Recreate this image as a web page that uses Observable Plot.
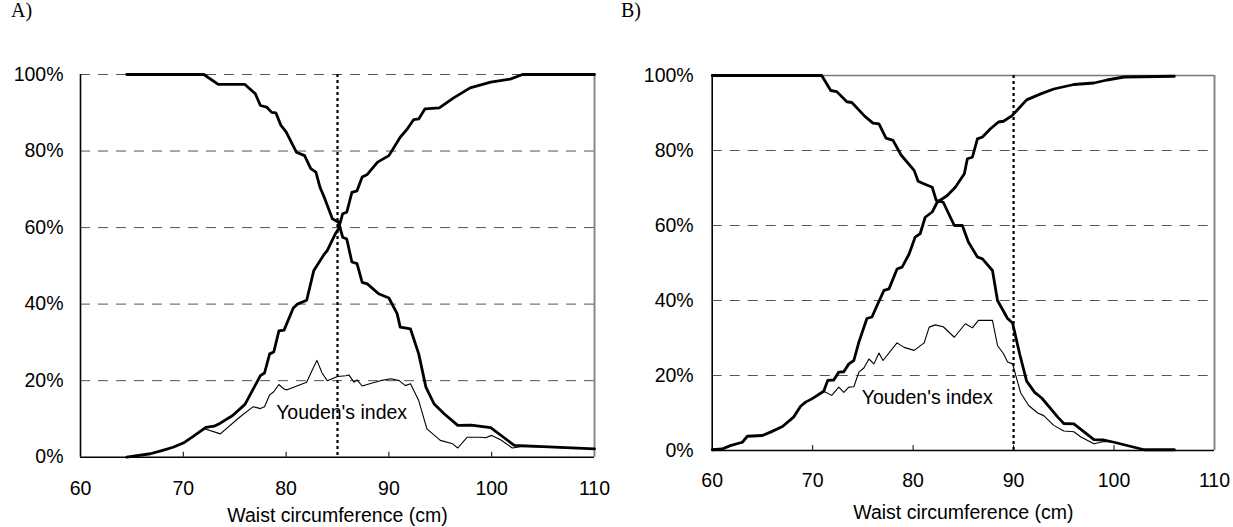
<!DOCTYPE html>
<html>
<head>
<meta charset="utf-8">
<script src="https://cdn.jsdelivr.net/npm/d3@7"></script>
<script src="https://cdn.jsdelivr.net/npm/@observablehq/plot@0.6"></script>
<style>
  html, body { margin: 0; padding: 0; background: #fff; }
  #wrap { position: relative; width: 1233px; height: 527px; background: #fff; overflow: hidden; }
  .panel { position: absolute; top: 0; }
  .tag { position: absolute; font-family: "Liberation Serif", "Times New Roman", serif; font-size: 20px; line-height: 20px; color: #000; }
</style>
</head>
<body>
<div id="wrap">
  <div class="tag" style="left:11px; top:0px;">A)</div>
  <div class="tag" style="left:621px; top:0px;">B)</div>
  <div id="pA" class="panel" style="left:0px;"></div>
  <div id="pB" class="panel" style="left:630px;"></div>
</div>
<script>
// ---------- shared axis data ----------
const xTicks = [60, 70, 80, 90, 100, 110];
const xInnerTicks = [70, 80, 90, 100];
const yTicks = [0, 20, 40, 60, 80, 100];
const xTitle = "Waist circumference (cm)";
const youdenText = "Youden's index";

// ---------- panel A ----------
const aCut = 85;
const aRiseX = [64.5, 66.8, 68, 69, 70, 71, 72.2, 73, 73.6, 74.8, 76, 77.5, 77.9, 78.4, 78.8, 79.3, 79.8, 80.7, 81.1, 82, 82.7, 83.7, 84, 84.8, 85.1, 85.5, 85.9, 86.4, 86.9, 87.4, 87.9, 88.9, 90, 91.1, 91.8, 92.4, 92.9, 93.5, 94.9, 96.3, 97.9, 99.9, 101.8, 103, 110];
const aRiseY = [0, 0.9, 1.8, 2.6, 3.7, 5.5, 7.8, 8.1, 8.9, 10.9, 13.8, 21.3, 22, 27, 27.5, 33, 33.2, 39, 40, 41, 48.8, 53, 54, 58.4, 59.7, 63.6, 64, 69.2, 69.6, 73.2, 73.9, 77.1, 78.8, 83.6, 85.8, 88.2, 88.4, 91, 91.3, 93.9, 96.5, 98, 98.8, 100, 100];
const aFallX = [64.5, 72, 73.4, 76, 77, 77.5, 78.1, 78.6, 79, 79.5, 80, 81, 81.8, 82.4, 82.9, 83.3, 83.7, 84.5, 85.1, 85.5, 85.9, 86.4, 86.9, 87.4, 87.9, 89, 90, 90.8, 91.1, 92.1, 92.9, 93.6, 94.4, 95.4, 96.7, 98, 99.9, 102.2, 110];
const aFallY = [100, 100, 97.4, 97.4, 95, 91.9, 91.5, 90.1, 90, 86.7, 85, 79.7, 78.8, 75.4, 74.5, 70.5, 68, 62.3, 61.4, 57.5, 57, 51, 50.6, 45.7, 45.3, 42.7, 41.6, 37.5, 34, 33.5, 27, 18.3, 13.9, 11.3, 8.3, 8.4, 7.7, 3.1, 2.2];
const aYoudX = [64.5, 66.8, 68, 69, 70, 71, 72, 73.6, 75.5, 76.8, 77.5, 77.9, 78.4, 78.8, 79.3, 79.8, 80.1, 82, 82.5, 83, 83.5, 84, 85, 85.8, 86.1, 86.6, 86.9, 87.4, 88.3, 89.2, 90.2, 91, 91.6, 92.1, 92.9, 93.7, 95, 96.2, 96.7, 97.6, 98.9, 99.4, 100, 100.9, 102, 103, 110];
const aYoudY = [0, 0.9, 1.8, 2.6, 3.7, 5.5, 7.5, 6.1, 10.5, 13.2, 12.7, 13.2, 16.3, 17.1, 19, 17.8, 17.6, 19.6, 22.5, 25.3, 22, 20, 21.1, 21.3, 21.5, 19.6, 20.2, 18.6, 19.3, 20, 20.5, 20, 18.7, 19.2, 14.8, 7.4, 4.4, 3.5, 2.4, 5.2, 5.2, 5.1, 5.7, 4.5, 2.4, 2.8, 2.2];
const aLabel = [{x: 85.4, y: 11.7, text: youdenText}];

// ---------- panel B ----------
const bCut = 90;
const bRiseX = [60, 61, 61.8, 63, 63.5, 65, 65.8, 67, 68.1, 68.8, 69.3, 70, 71.1, 71.5, 72.1, 72.6, 73.1, 73.6, 74.1, 74.6, 75.4, 75.9, 76.4, 77.1, 77.6, 78.4, 78.9, 79.6, 80.2, 80.7, 81.2, 81.9, 82.4, 83.4, 84.2, 85.1, 85.4, 85.9, 86.4, 86.9, 87.7, 88.5, 89, 89.85, 91.3, 92.7, 94, 96, 98, 99.3, 101, 106];
const bRiseY = [0.2, 0.4, 1.3, 2.2, 3.8, 4, 4.9, 6.4, 8.9, 11.8, 12.9, 13.9, 15.8, 18.7, 18.8, 20.9, 21, 23.1, 24, 28.9, 35.2, 35.6, 38.6, 42.7, 43.1, 48.4, 48.9, 52.4, 56.9, 57.8, 62.2, 63.6, 66.2, 68, 70.2, 73.8, 77.8, 78.2, 83.1, 83.6, 85.8, 87.6, 87.8, 89.3, 93.5, 95.1, 96.4, 97.6, 98, 98.8, 99.6, 99.8];
const bFallX = [60, 70.9, 71.8, 72.4, 73.4, 73.9, 75.2, 76, 76.6, 77.3, 78, 78.8, 80.1, 80.5, 81, 81.9, 82.3, 83, 84.1, 84.9, 85.5, 86.4, 86.9, 87.9, 88.4, 89.4, 89.9, 90.6, 91.3, 92.1, 92.8, 94.4, 95, 96, 98, 99, 100, 103, 106];
const bFallY = [100, 100, 96, 95.7, 93, 92.8, 89.1, 87.3, 87.1, 83.3, 82.7, 78.8, 74.7, 71.8, 71.2, 70.2, 66.7, 66.2, 60, 60, 55.6, 51.6, 51.1, 48, 40, 35.2, 34, 25.8, 18.5, 15.5, 14, 8.9, 7.2, 7.1, 2.9, 2.8, 2.2, 0.2, 0.2];
const bYoudX = [60, 61, 61.8, 63, 63.5, 65, 65.8, 67, 68.1, 68.8, 69.3, 70, 71.1, 71.9, 72.6, 73.1, 73.6, 74.1, 74.6, 75.1, 75.6, 76.1, 76.6, 77, 78.4, 79.1, 80.1, 81.1, 81.6, 82.2, 83, 84.1, 85.2, 85.9, 86.5, 87.9, 88.4, 89, 89.4, 89.9, 90.7, 91.5, 92.4, 93, 94, 95, 96, 96.7, 98, 99, 100, 103, 106];
const bYoudY = [0.2, 0.4, 1.3, 2.2, 3.8, 4, 4.9, 6.4, 8.9, 11.8, 12.9, 13.9, 15.8, 14.7, 16.9, 15.5, 16.9, 17, 20.9, 22, 24.4, 23.1, 26, 24, 28.7, 27.5, 26.7, 28.7, 32.9, 33.5, 33, 30.2, 33.8, 32.7, 34.7, 34.7, 28, 25.8, 23.6, 23.1, 15.4, 12, 10, 9.3, 6.7, 5.2, 5, 3.6, 1.8, 2.4, 2.2, 0.2, 0.2];
const bLabel = [{x: 81.4, y: 14, text: youdenText}];

const FONT = "'Liberation Sans', Arial, Helvetica, sans-serif";
const FS = 19.5;

function panel(o) {
  const rise = d3.zip(o.riseX, o.riseY);
  const fall = d3.zip(o.fallX, o.fallY);
  const youd = d3.zip(o.youdX, o.youdY);
  const grid = o.topDashed ? [20, 40, 60, 80, 100] : [20, 40, 60, 80];
  const marks = [
    Plot.ruleY(grid, {stroke: "#555", strokeWidth: 1, strokeDasharray: "10,8"}),
    o.topDashed ? null : Plot.ruleY([100], {stroke: "#777", strokeWidth: 1.5}),
    Plot.ruleX([110], {stroke: "#888", strokeWidth: 2}),
    Plot.ruleX([o.cut], {stroke: "#000", strokeWidth: 2.2, strokeDasharray: "3,3"}),
    Plot.ruleX(xInnerTicks, {y1: 0, y2: 1.3, stroke: "#000", strokeWidth: 1}),
    Plot.line(youd, {x: d => d[0], y: d => d[1], stroke: "#000", strokeWidth: 1.1}),
    Plot.line(fall, {x: d => d[0], y: d => d[1], stroke: "#000", strokeWidth: 2.8}),
    Plot.line(rise, {x: d => d[0], y: d => d[1], stroke: "#000", strokeWidth: 2.8}),
    Plot.ruleY([0], {stroke: "#000", strokeWidth: 1.6}),
    Plot.ruleX([60], {stroke: "#000", strokeWidth: 1.6}),
    Plot.axisY(yTicks, {tickSize: 0, tickPadding: o.yPad, tickFormat: d => d + "%", fontSize: FS, fill: "#000", label: null}),
    Plot.axisX(xTicks, {tickSize: 0, tickPadding: o.xPad, fontSize: FS, fill: "#000", label: null}),
    Plot.text(o.label, {x: "x", y: "y", text: "text", fontSize: FS, fill: "#000", textAnchor: "middle"}),
    Plot.text([xTitle], {frameAnchor: "bottom", dy: o.titleDy, fontSize: FS, fill: "#000", lineAnchor: "middle"})
  ].filter(Boolean);
  return Plot.plot({
    width: o.width,
    height: 527,
    marginLeft: o.ml,
    marginRight: o.mr,
    marginTop: o.mt,
    marginBottom: o.mb,
    x: {domain: [60, 110], label: null},
    y: {domain: [0, 100], label: null},
    style: {fontFamily: FONT, fontSize: FS + "px", background: "transparent", color: "#000", overflow: "visible"},
    marks
  });
}

document.getElementById("pA").appendChild(panel({
  riseX: aRiseX, riseY: aRiseY, fallX: aFallX, fallY: aFallY, youdX: aYoudX, youdY: aYoudY,
  cut: aCut, label: aLabel, topDashed: true,
  width: 620, ml: 80, mr: 26, mt: 74, mb: 70.3, yPad: 17, xPad: 24, titleDy: 58.5
}));
document.getElementById("pB").appendChild(panel({
  riseX: bRiseX, riseY: bRiseY, fallX: bFallX, fallY: bFallY, youdX: bYoudX, youdY: bYoudY,
  cut: bCut, label: bLabel, topDashed: false,
  width: 603, ml: 81.7, mr: 19, mt: 75, mb: 77, yPad: 18.5, xPad: 23, titleDy: 62
}));
</script>
</body>
</html>
